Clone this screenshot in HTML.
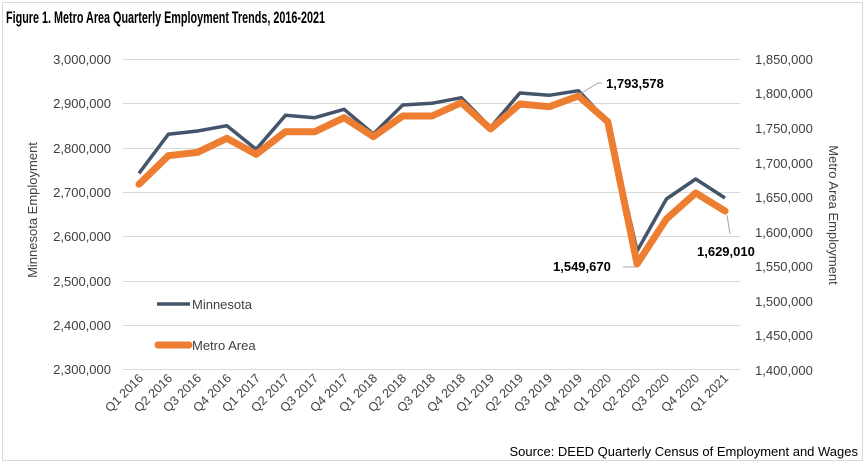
<!DOCTYPE html>
<html><head><meta charset="utf-8"><style>
html,body{margin:0;padding:0;background:#fff;}
svg{display:block;font-family:"Liberation Sans",sans-serif;}
</style></head><body>
<svg width="867" height="473" viewBox="0 0 867 473" xmlns="http://www.w3.org/2000/svg">
<rect x="0" y="0" width="867" height="473" fill="#fff"/>
<rect x="2.5" y="2.5" width="860" height="458" fill="none" stroke="#d9d9d9" stroke-width="1"/>
<text x="6" y="23" font-size="16.5" font-weight="bold" fill="#000" textLength="319" lengthAdjust="spacingAndGlyphs">Figure 1. Metro Area Quarterly Employment Trends, 2016-2021</text>
<g stroke="#d9d9d9" stroke-width="1">
<line x1="123" x2="740" y1="59.5" y2="59.5"/>
<line x1="123" x2="740" y1="103.5" y2="103.5"/>
<line x1="123" x2="740" y1="148.5" y2="148.5"/>
<line x1="123" x2="740" y1="192.5" y2="192.5"/>
<line x1="123" x2="740" y1="236.5" y2="236.5"/>
<line x1="123" x2="740" y1="281.5" y2="281.5"/>
<line x1="123" x2="740" y1="325.5" y2="325.5"/>
<line x1="123" x2="740" y1="369.5" y2="369.5"/>
</g>
<g font-size="13" fill="#404040" text-anchor="end">
<text x="111" y="64">3,000,000</text>
<text x="111" y="108">2,900,000</text>
<text x="111" y="153">2,800,000</text>
<text x="111" y="197">2,700,000</text>
<text x="111" y="241">2,600,000</text>
<text x="111" y="286">2,500,000</text>
<text x="111" y="330">2,400,000</text>
<text x="111" y="374">2,300,000</text>
</g>
<g font-size="13" fill="#404040" text-anchor="start">
<text x="755" y="64">1,850,000</text>
<text x="755" y="98">1,800,000</text>
<text x="755" y="133">1,750,000</text>
<text x="755" y="168">1,700,000</text>
<text x="755" y="202">1,650,000</text>
<text x="755" y="237">1,600,000</text>
<text x="755" y="271">1,550,000</text>
<text x="755" y="306">1,500,000</text>
<text x="755" y="340">1,450,000</text>
<text x="755" y="375">1,400,000</text>
</g>
<text transform="translate(37,210) rotate(-90)" font-size="13" fill="#404040" text-anchor="middle">Minnesota Employment</text>
<text transform="translate(829,215) rotate(90)" font-size="13" fill="#404040" text-anchor="middle">Metro Area Employment</text>
<g font-size="12.5" fill="#404040" text-anchor="end">
<text transform="translate(144,379) rotate(-45)">Q1 2016</text>
<text transform="translate(173,379) rotate(-45)">Q2 2016</text>
<text transform="translate(202,379) rotate(-45)">Q3 2016</text>
<text transform="translate(232,379) rotate(-45)">Q4 2016</text>
<text transform="translate(261,379) rotate(-45)">Q1 2017</text>
<text transform="translate(290,379) rotate(-45)">Q2 2017</text>
<text transform="translate(319,379) rotate(-45)">Q3 2017</text>
<text transform="translate(349,379) rotate(-45)">Q4 2017</text>
<text transform="translate(378,379) rotate(-45)">Q1 2018</text>
<text transform="translate(407,379) rotate(-45)">Q2 2018</text>
<text transform="translate(436,379) rotate(-45)">Q3 2018</text>
<text transform="translate(466,379) rotate(-45)">Q4 2018</text>
<text transform="translate(495,379) rotate(-45)">Q1 2019</text>
<text transform="translate(524,379) rotate(-45)">Q2 2019</text>
<text transform="translate(553,379) rotate(-45)">Q3 2019</text>
<text transform="translate(583,379) rotate(-45)">Q4 2019</text>
<text transform="translate(612,379) rotate(-45)">Q1 2020</text>
<text transform="translate(641,379) rotate(-45)">Q2 2020</text>
<text transform="translate(670,379) rotate(-45)">Q3 2020</text>
<text transform="translate(700,379) rotate(-45)">Q4 2020</text>
<text transform="translate(729,379) rotate(-45)">Q1 2021</text>
</g>
<polyline fill="none" stroke="#44546a" stroke-width="3.5" stroke-linejoin="round" points="139,173.3 168.3,134.3 197.6,131 226.9,125.7 256.2,149.3 285.5,115.3 314.8,117.7 344.1,109.3 373.4,134 402.7,105 432,103.3 461.3,97.7 490.6,127.3 519.9,93 549.2,95.3 578.5,90.7 607.8,121.7 637.1,251 666.4,199 695.7,179 725,198"/>
<polyline fill="none" stroke="#ed7d31" stroke-width="7" stroke-linejoin="round" stroke-linecap="round" points="139,184.3 168.3,155.7 197.6,152.3 226.9,138.3 256.2,154.3 285.5,131.7 314.8,131.7 344.1,117.7 373.4,136.7 402.7,116 432,116 461.3,102.7 490.6,129 519.9,104 549.2,106.7 578.5,96 607.8,121.7 637.1,264 666.4,219 695.7,193 725,211"/>
<line x1="157" x2="190" y1="304" y2="304" stroke="#44546a" stroke-width="3.5"/>
<text x="192" y="309" font-size="13" fill="#404040">Minnesota</text>
<line x1="158" x2="189" y1="345" y2="345" stroke="#ed7d31" stroke-width="7" stroke-linecap="round"/>
<text x="192" y="350" font-size="13" fill="#404040">Metro Area</text>
<g stroke="#a6a6a6" stroke-width="1" fill="none">
<polyline points="580,94 598,83 602,83"/>
<polyline points="623,267 635,267"/>
<polyline points="727,215 730,234"/>
</g>
<g font-size="13" font-weight="bold" fill="#000">
<text x="606" y="88">1,793,578</text>
<text x="553" y="271">1,549,670</text>
<text x="697" y="256">1,629,010</text>
</g>
<text x="858" y="456" font-size="13" fill="#000" text-anchor="end">Source: DEED Quarterly Census of Employment and Wages</text>
</svg>
</body></html>
